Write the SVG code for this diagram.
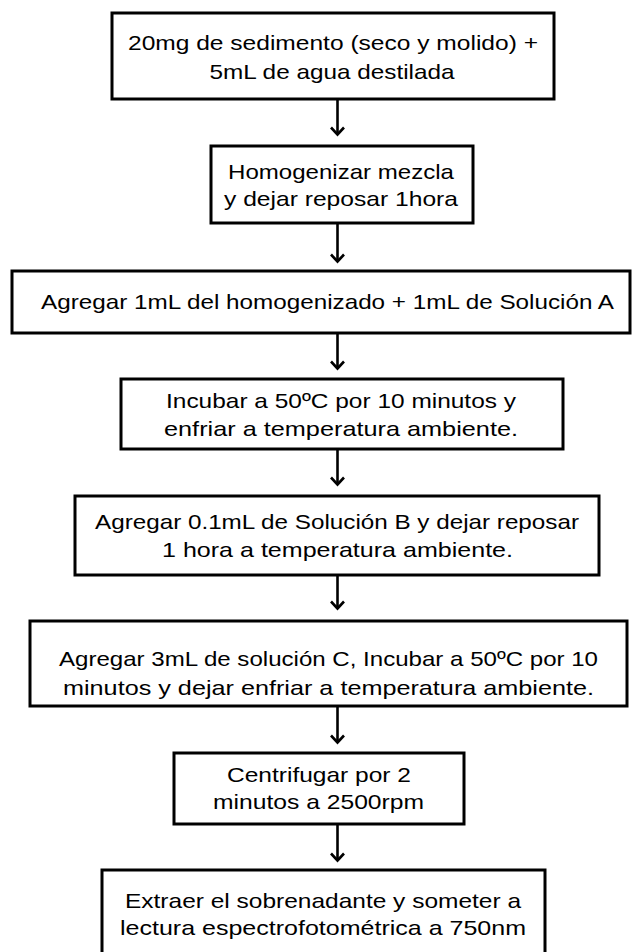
<svg xmlns="http://www.w3.org/2000/svg" width="632" height="952" viewBox="0 0 632 952">
<style>
.box{fill:#fff;stroke:#000;stroke-width:3}
.t{font-family:"Liberation Sans",Arial,sans-serif;font-size:21px;fill:#000;text-anchor:middle}
.c{stroke:#000;stroke-width:2.6;fill:none;marker-end:url(#ah)}
</style>
<defs>
<marker id="ah" markerUnits="userSpaceOnUse" markerWidth="16" markerHeight="16" refX="0" refY="0" orient="auto" overflow="visible">
<path d="M-7,-6.5L0,0L-7,6.5" fill="none" stroke="#000" stroke-width="2.6"/>
</marker>
</defs>
<rect width="632" height="952" fill="#fff"/>
<g id="n1"><rect class="box" x="112" y="13" width="442" height="86"/>
<text class="t" x="333" y="50" textLength="410" lengthAdjust="spacingAndGlyphs">20mg de sedimento (seco y molido) +</text>
<text class="t" x="332" y="79" textLength="245" lengthAdjust="spacingAndGlyphs">5mL de agua destilada</text></g>
<g id="n2"><rect class="box" x="211" y="146" width="262" height="77"/>
<text class="t" x="341" y="179" textLength="226" lengthAdjust="spacingAndGlyphs">Homogenizar mezcla</text>
<text class="t" x="341" y="206" textLength="234" lengthAdjust="spacingAndGlyphs">y dejar reposar 1hora</text></g>
<g id="n3"><rect class="box" x="12" y="271" width="618" height="62"/>
<text class="t" x="327.5" y="309" textLength="573" lengthAdjust="spacingAndGlyphs">Agregar 1mL del homogenizado + 1mL de Solución A</text></g>
<g id="n4"><rect class="box" x="121" y="379" width="442" height="70"/>
<text class="t" x="341" y="408" textLength="350" lengthAdjust="spacingAndGlyphs">Incubar a 50ºC por 10 minutos y</text>
<text class="t" x="341" y="436" textLength="354" lengthAdjust="spacingAndGlyphs">enfriar a temperatura ambiente.</text></g>
<g id="n5"><rect class="box" x="75" y="496" width="524" height="79"/>
<text class="t" x="337" y="529" textLength="484" lengthAdjust="spacingAndGlyphs">Agregar 0.1mL de Solución B y dejar reposar</text>
<text class="t" x="337.5" y="557" textLength="351" lengthAdjust="spacingAndGlyphs">1 hora a temperatura ambiente.</text></g>
<g id="n6"><rect class="box" x="30" y="621" width="597" height="85"/>
<text class="t" x="328.5" y="666" textLength="539" lengthAdjust="spacingAndGlyphs">Agregar 3mL de solución C, Incubar a 50ºC por 10</text>
<text class="t" x="328.5" y="695" textLength="531" lengthAdjust="spacingAndGlyphs">minutos y dejar enfriar a temperatura ambiente.</text></g>
<g id="n7"><rect class="box" x="174" y="753" width="290" height="71"/>
<text class="t" x="319" y="782" textLength="184" lengthAdjust="spacingAndGlyphs">Centrifugar por 2</text>
<text class="t" x="318.5" y="809" textLength="211" lengthAdjust="spacingAndGlyphs">minutos a 2500rpm</text></g>
<g id="n8"><rect class="box" x="102" y="870" width="443" height="90"/>
<text class="t" x="323" y="908" textLength="396" lengthAdjust="spacingAndGlyphs">Extraer el sobrenadante y someter a</text>
<text class="t" x="323" y="935" textLength="406" lengthAdjust="spacingAndGlyphs">lectura espectrofotométrica a 750nm</text></g>
<g id="connectors">
<path class="c" d="M337.5,99V134.5"/>
<path class="c" d="M337.5,223V261.5"/>
<path class="c" d="M337.5,333V368.5"/>
<path class="c" d="M337.5,449V484.5"/>
<path class="c" d="M337.5,575V608.5"/>
<path class="c" d="M337.5,706V742.5"/>
<path class="c" d="M337.5,824V860.5"/>
</g>
</svg>
